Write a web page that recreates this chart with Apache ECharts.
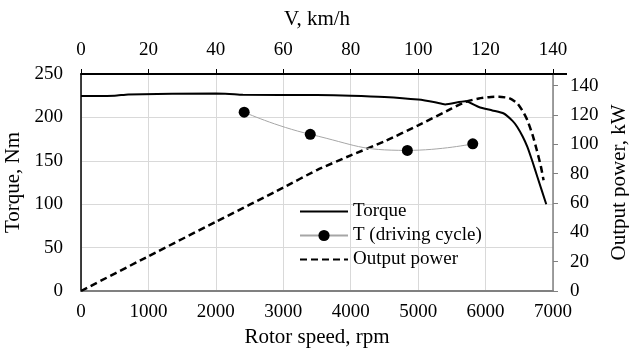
<!DOCTYPE html>
<html>
<head>
<meta charset="utf-8">
<title>Torque and power</title>
<script src="https://cdn.jsdelivr.net/npm/echarts@6.0.0/dist/echarts.min.js"></script>
<style>
  html, body { margin: 0; padding: 0; background: #fff; }
  #chart { width: 629px; height: 356px; }
</style>
</head>
<body>
<div id="chart"></div>
<script>
// torque curve (Nm vs rpm)
const torqueRpm = [0, 500, 700, 2000, 2200, 2400, 3500, 4000, 4500, 5000, 5250, 5400, 5700, 5900, 6100, 6270, 6400, 6470, 6550, 6620, 6700, 6770, 6900]
const torqueNm = [224.6, 225, 226.5, 227.5, 227, 226, 225.8, 225, 223.5, 220.5, 217.5, 215, 218.5, 212, 208, 204.5, 196, 189, 178, 166, 148, 131, 100]

// output power (kW vs rpm)
const powerRpm = [0, 1000, 2000, 3000, 3500, 4000, 4500, 5000, 5500, 5700, 5900, 6050, 6200, 6350, 6470, 6560, 6620, 6700, 6760, 6820, 6860]
const powerKw = [0, 23.7, 47.2, 70.5, 82.5, 92.5, 102, 113, 124.5, 129, 131.3, 132.2, 132.5, 131.5, 128, 122, 116.5, 106, 96, 85, 75.5]

// driving cycle points
const cycleRpm = [2420, 3400, 4840, 5810]
const cycleNm = [206, 180.5, 162, 169.5]

const font = 'Liberation Serif'
const gridGray = '#d9d9d9'
const plain = v => String(v)

const pairs = (xs, ys) => xs.map((x, i) => [x, ys[i]])

const chart = echarts.init(document.getElementById('chart'))

const option = {
  animation: false,
  textStyle: { fontFamily: font, color: '#000' },
  grid: {
    left: 81,
    right: 76,
    top: 74,
    bottom: 65,
    outerBoundsMode: 'none'
  },
  legend: {
    orient: 'vertical',
    left: 299,
    top: 202,
    padding: 0,
    itemWidth: 48,
    itemHeight: 14,
    itemGap: 5,
    textStyle: { fontFamily: font, fontSize: 19, color: '#000' },
    data: [
      { name: 'Torque', itemStyle: { opacity: 0 } },
      { name: 'T (driving cycle)' },
      { name: 'Output power', itemStyle: { opacity: 0 } }
    ]
  },
  xAxis: [
    {
      type: 'value',
      position: 'bottom',
      min: 0,
      max: 7000,
      interval: 1000,
      name: 'Rotor speed, rpm',
      nameLocation: 'middle',
      nameGap: 36,
      nameTextStyle: { fontFamily: font, fontSize: 21, color: '#000' },
      axisLine: { show: true, onZero: false, lineStyle: { color: '#808080', width: 2 } },
      axisTick: { show: false },
      axisLabel: { margin: 12, fontFamily: font, fontSize: 19, color: '#000', formatter: plain },
      splitLine: { show: true, lineStyle: { color: gridGray, width: 1 } }
    },
    {
      type: 'value',
      position: 'top',
      min: 0,
      max: 140,
      interval: 20,
      name: 'V, km/h',
      nameLocation: 'middle',
      nameGap: 44,
      nameTextStyle: { fontFamily: font, fontSize: 21, color: '#000' },
      axisLine: { show: true, onZero: false, lineStyle: { color: '#000', width: 2 } },
      axisTick: { show: true, inside: false, length: 5, lineStyle: { color: '#000', width: 1 } },
      axisLabel: { margin: 14, fontFamily: font, fontSize: 19, color: '#000', formatter: plain },
      splitLine: { show: false }
    }
  ],
  yAxis: [
    {
      type: 'value',
      position: 'left',
      min: 0,
      max: 250,
      interval: 50,
      name: 'Torque, Nm',
      nameLocation: 'middle',
      nameGap: 56,
      nameRotate: 90,
      nameTextStyle: { fontFamily: font, fontSize: 21, color: '#000' },
      axisLine: { show: true, onZero: false, lineStyle: { color: '#000', width: 1.5 } },
      axisTick: { show: false },
      axisLabel: { margin: 18, fontFamily: font, fontSize: 19, color: '#000', formatter: plain },
      splitLine: { show: true, lineStyle: { color: gridGray, width: 1 } }
    },
    {
      type: 'value',
      position: 'right',
      min: 0,
      max: 148,
      interval: 20,
      name: 'Output power, kW',
      nameLocation: 'middle',
      nameGap: 54,
      nameRotate: 90,
      nameTextStyle: { fontFamily: font, fontSize: 21, color: '#000' },
      axisLine: { show: true, onZero: false, lineStyle: { color: '#808080', width: 1.5 } },
      axisTick: { show: true, inside: false, length: 5, lineStyle: { color: '#808080', width: 1 } },
      axisLabel: { margin: 17, fontFamily: font, fontSize: 19, color: '#000', showMaxLabel: false, formatter: plain },
      splitLine: { show: false }
    }
  ],
  series: [
    {
      name: 'Torque',
      type: 'line',
      xAxisIndex: 0,
      yAxisIndex: 0,
      data: pairs(torqueRpm, torqueNm),
      symbol: 'none',
      smooth: 0.2,
      lineStyle: { color: '#000', width: 2 },
      itemStyle: { color: '#000' },
      z: 3
    },
    {
      name: 'T (driving cycle)',
      type: 'line',
      xAxisIndex: 0,
      yAxisIndex: 0,
      data: pairs(cycleRpm, cycleNm),
      smooth: 0.5,
      symbol: 'circle',
      symbolSize: 11,
      lineStyle: { color: '#a6a6a6', width: 1 },
      itemStyle: { color: '#000' },
      z: 4
    },
    {
      name: 'Output power',
      type: 'line',
      xAxisIndex: 0,
      yAxisIndex: 1,
      data: pairs(powerRpm, powerKw),
      symbol: 'none',
      smooth: 0.2,
      lineStyle: { color: '#000', width: 2.5, type: [7, 4] },
      itemStyle: { color: '#000' },
      z: 3
    }
  ]
}

chart.setOption(option)

// the top (km/h) axis line runs a little past the plot on the right
const topEnd = chart.convertToPixel({ xAxisIndex: 1 }, 140)
const topY = chart.convertToPixel({ yAxisIndex: 0 }, 250)
chart.setOption({
  graphic: [{
    type: 'line',
    shape: { x1: topEnd, y1: topY, x2: topEnd + 14, y2: topY },
    style: { stroke: '#000', lineWidth: 2 },
    silent: true
  }]
})
</script>
</body>
</html>
